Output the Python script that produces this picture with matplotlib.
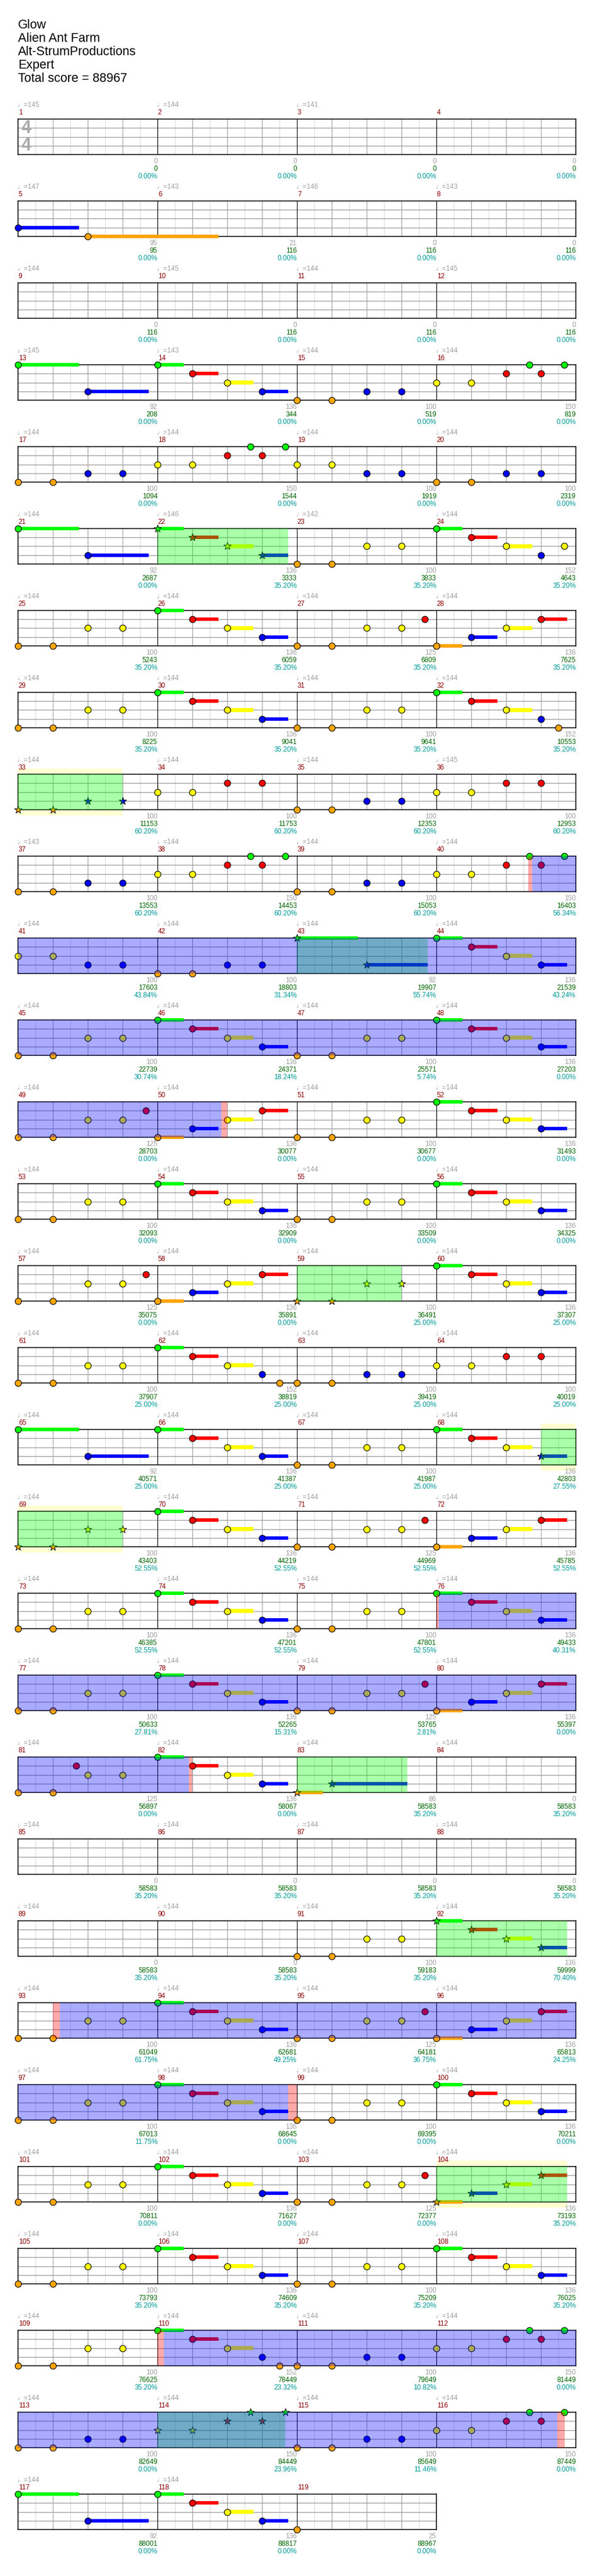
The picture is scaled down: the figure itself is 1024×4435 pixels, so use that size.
import matplotlib
matplotlib.use('Agg')
import matplotlib.pyplot as plt
from matplotlib.patches import Rectangle

plt.rcParams['font.family'] = ['Liberation Sans', 'DejaVu Sans']

# ---------------- data ----------------
title_lines = ["Glow", "Alien Ant Farm", "Alt-StrumProductions", "Expert", "Total score = 88967"]

tempos = [145, 144, 141, None, 147, 143, 146, 143, 144, 145, 144, 145,
          145, 143, 144, 144, 144, 144, 144, 144, 144, 146, 142, 144,
          144, 144, 144, 144, 144, 144, 144, 144, 144, 144, 144, 145,
          143, 144, 144, 144, 144, 144, 144, 144, 144, 144, 144, 144,
          144, 144, 144, 144, 144, 144, 144, 144, 144, 144, 144, 144,
          144, 144, 144, 144, 144, 144, 144, 144, 144, 144, 144, 144,
          144, 144, 144, 144, 144, 144, 144, 144, 144, 144, 144, 144,
          144, 144, 144, 144, 144, 144, 144, 144, 144, 144, 144, 144,
          144, 144, 144, 144, 144, 144, 144, 144, 144, 144, 144, 144,
          144, 144, 144, 144, 144, 144, 144, 144, 144, 144, None]

bar_scores = [0, 0, 0, 0, 95, 21, 0, 0, 0, 0, 0, 0,
              92, 136, 100, 150, 100, 150, 100, 100, 92, 136, 100, 152,
              100, 136, 125, 136, 100, 136, 100, 152, 100, 100, 100, 100,
              100, 150, 100, 150, 100, 100, 92, 136, 100, 136, 100, 136,
              125, 136, 100, 136, 100, 136, 100, 136, 125, 136, 100, 136,
              100, 152, 100, 100, 92, 136, 100, 136, 100, 136, 125, 136,
              100, 136, 100, 136, 100, 136, 125, 136, 125, 136, 86, 0,
              0, 0, 0, 0, 0, 0, 100, 136, 100, 136, 125, 136,
              100, 136, 100, 136, 100, 136, 125, 136, 100, 136, 100, 136,
              100, 152, 100, 150, 100, 150, 100, 150, 92, 136, 25]

total_scores = [0, 0, 0, 0, 95, 116, 116, 116, 116, 116, 116, 116,
                208, 344, 519, 819, 1094, 1544, 1919, 2319, 2687, 3333, 3833, 4643,
                5243, 6059, 6809, 7625, 8225, 9041, 9641, 10553, 11153, 11753, 12353, 12953,
                13553, 14453, 15053, 16403, 17603, 18803, 19907, 21539, 22739, 24371, 25571, 27203,
                28703, 30077, 30677, 31493, 32093, 32909, 33509, 34325, 35075, 35891, 36491, 37307,
                37907, 38819, 39419, 40019, 40571, 41387, 41987, 42803, 43403, 44219, 44969, 45785,
                46385, 47201, 47801, 49433, 50633, 52265, 53765, 55397, 56897, 58067, 58583, 58583,
                58583, 58583, 58583, 58583, 58583, 58583, 59183, 59999, 61049, 62681, 64181, 65813,
                67013, 68645, 69395, 70211, 70811, 71627, 72377, 73193, 73793, 74609, 75209, 76025,
                76625, 78449, 79649, 81449, 82649, 84449, 85649, 87449, 88001, 88817, 88967]

sp_percent = [0.00, 0.00, 0.00, 0.00, 0.00, 0.00, 0.00, 0.00, 0.00, 0.00, 0.00, 0.00,
              0.00, 0.00, 0.00, 0.00, 0.00, 0.00, 0.00, 0.00, 0.00, 35.20, 35.20, 35.20,
              35.20, 35.20, 35.20, 35.20, 35.20, 35.20, 35.20, 35.20, 60.20, 60.20, 60.20, 60.20,
              60.20, 60.20, 60.20, 56.34, 43.84, 31.34, 55.74, 43.24, 30.74, 18.24, 5.74, 0.00,
              0.00, 0.00, 0.00, 0.00, 0.00, 0.00, 0.00, 0.00, 0.00, 0.00, 25.00, 25.00,
              25.00, 25.00, 25.00, 25.00, 25.00, 25.00, 25.00, 27.55, 52.55, 52.55, 52.55, 52.55,
              52.55, 52.55, 52.55, 40.31, 27.81, 15.31, 2.81, 0.00, 0.00, 0.00, 35.20, 35.20,
              35.20, 35.20, 35.20, 35.20, 35.20, 35.20, 35.20, 70.40, 61.75, 49.25, 36.75, 24.25,
              11.75, 0.00, 0.00, 0.00, 0.00, 0.00, 0.00, 35.20, 35.20, 35.20, 35.20, 35.20,
              35.20, 23.32, 10.82, 0.00, 0.00, 23.96, 11.46, 0.00, 0.00, 0.00, 0.00]

# notes per measure: "<eighth><lane>[:<sustain eighths>][*=star note]"
measure_notes = {
    5: "0B:3.5 4O:7.5",
    13: "0G:3.5 4B:3.5", 14: "0G:1.5 2R:1.5 4Y:1.5 6B:1.5", 15: "0O 2O 4B 6B", 16: "0Y 2Y 4R 5.33G 6R 7.33G",
    17: "0O 2O 4B 6B", 18: "0Y 2Y 4R 5.33G 6R 7.33G", 19: "0Y 2Y 4B 6B", 20: "0O 2O 4B 6B",
    21: "0G:3.5 4B:3.5", 22: "0G:1.5* 2R:1.5* 4Y:1.5* 6B:1.5*", 23: "0O 2O 4Y 6Y", 24: "0G:1.5 2R:1.5 4Y:1.5 6B 7.33Y",
    25: "0O 2O 4Y 6Y", 26: "0G:1.5 2R:1.5 4Y:1.5 6B:1.5", 27: "0O 2O 4Y 6Y 7.33R", 28: "0O:1.5 2B:1.5 4Y:1.5 6R:1.5",
    29: "0O 2O 4Y 6Y", 30: "0G:1.5 2R:1.5 4Y:1.5 6B:1.5", 31: "0O 2O 4Y 6Y", 32: "0G:1.5 2R:1.5 4Y:1.5 6B 7O",
    33: "0O* 2O* 4B* 6B*", 34: "0Y 2Y 4R 6R", 35: "0O 2O 4B 6B", 36: "0Y 2Y 4R 6R",
    37: "0O 2O 4B 6B", 38: "0Y 2Y 4R 5.33G 6R 7.33G", 39: "0O 2O 4B 6B", 40: "0Y 2Y 4R 5.33G 6R 7.33G",
    41: "0Y 2Y 4B 6B", 42: "0O 2O 4B 6B", 43: "0G:3.5* 4B:3.5*", 44: "0G:1.5 2R:1.5 4Y:1.5 6B:1.5",
    45: "0O 2O 4Y 6Y", 46: "0G:1.5 2R:1.5 4Y:1.5 6B:1.5", 47: "0O 2O 4Y 6Y", 48: "0G:1.5 2R:1.5 4Y:1.5 6B:1.5",
    49: "0O 2O 4Y 6Y 7.33R", 50: "0O:1.5 2B:1.5 4Y:1.5 6R:1.5", 51: "0O 2O 4Y 6Y", 52: "0G:1.5 2R:1.5 4Y:1.5 6B:1.5",
    53: "0O 2O 4Y 6Y", 54: "0G:1.5 2R:1.5 4Y:1.5 6B:1.5", 55: "0O 2O 4Y 6Y", 56: "0G:1.5 2R:1.5 4Y:1.5 6B:1.5",
    57: "0O 2O 4Y 6Y 7.33R", 58: "0O:1.5 2B:1.5 4Y:1.5 6R:1.5", 59: "0O* 2O* 4Y* 6Y*", 60: "0G:1.5 2R:1.5 4Y:1.5 6B:1.5",
    61: "0O 2O 4Y 6Y", 62: "0G:1.5 2R:1.5 4Y:1.5 6B 7O", 63: "0O 2O 4B 6B", 64: "0Y 2Y 4R 6R",
    65: "0G:3.5 4B:3.5", 66: "0G:1.5 2R:1.5 4Y:1.5 6B:1.5", 67: "0O 2O 4Y 6Y", 68: "0G:1.5 2R:1.5 4Y:1.5 6B:1.5*",
    69: "0O* 2O* 4Y* 6Y*", 70: "0G:1.5 2R:1.5 4Y:1.5 6B:1.5", 71: "0O 2O 4Y 6Y 7.33R", 72: "0O:1.5 2B:1.5 4Y:1.5 6R:1.5",
    73: "0O 2O 4Y 6Y", 74: "0G:1.5 2R:1.5 4Y:1.5 6B:1.5", 75: "0O 2O 4Y 6Y", 76: "0G:1.5 2R:1.5 4Y:1.5 6B:1.5",
    77: "0O 2O 4Y 6Y", 78: "0G:1.5 2R:1.5 4Y:1.5 6B:1.5", 79: "0O 2O 4Y 6Y 7.33R", 80: "0O:1.5 2B:1.5 4Y:1.5 6R:1.5",
    81: "0O 2O 3.33R 4Y 6Y", 82: "0G:1.5 2R:1.5 4Y:1.5 6B:1.5", 83: "0O:1.5* 2B:4.33*",
    91: "0O 2O 4Y 6Y", 92: "0G:1.5* 2R:1.5* 4Y:1.5* 6B:1.5*",
    93: "0O 2O 4Y 6Y", 94: "0G:1.5 2R:1.5 4Y:1.5 6B:1.5", 95: "0O 2O 4Y 6Y 7.33R", 96: "0O:1.5 2B:1.5 4Y:1.5 6R:1.5",
    97: "0O 2O 4Y 6Y", 98: "0G:1.5 2R:1.5 4Y:1.5 6B:1.5", 99: "0O 2O 4Y 6Y", 100: "0G:1.5 2R:1.5 4Y:1.5 6B:1.5",
    101: "0O 2O 4Y 6Y", 102: "0G:1.5 2R:1.5 4Y:1.5 6B:1.5", 103: "0O 2O 4Y 6Y 7.33R", 104: "0O:1.5* 2B:1.5* 4Y:1.5* 6R:1.5*",
    105: "0O 2O 4Y 6Y", 106: "0G:1.5 2R:1.5 4Y:1.5 6B:1.5", 107: "0O 2O 4Y 6Y", 108: "0G:1.5 2R:1.5 4Y:1.5 6B:1.5",
    109: "0O 2O 4Y 6Y", 110: "0G:1.5 2R:1.5 4Y:1.5 6B 7O", 111: "0O 2O 4B 6B", 112: "0Y 2Y 4R 5.33G 6R 7.33G",
    113: "0O 2O 4B 6B", 114: "0Y* 2Y* 4R* 5.33G* 6R* 7.33G*", 115: "0O 2O 4B 6B", 116: "0Y 2Y 4R 5.33G 6R 7.33G",
    117: "0G:3.5 4B:3.5", 118: "0G:1.5 2R:1.5 4Y:1.5 6B:1.5", 119: "0O",
}

# time ranges in eighth notes from the song start
sp_phrases = [(168, 175.5), (256, 262), (336, 343.5), (464, 470), (542, 550),
              (656, 662.33), (728, 735.5), (824, 831.5), (904, 911.33)]
unused_phrases = [(256, 262), (542, 550), (824, 831.5)]
sp_active = [(317.5, 395.67), (600.12, 649.8), (738.4, 783.5), (872.37, 926.93)]
sp_edges = [(317.28, 317.5), (395.67, 396.0), (600.0, 600.12), (649.8, 650.0),
            (738.0, 738.4), (783.5, 784.0), (872.0, 872.37), (926.93, 927.37)]

# ---------------- style ----------------
W, H, DPI = 1024, 4435, 100
LEFT, MEAS_W, TOP0, PITCH, STAFF_H = 31, 240, 205, 141, 61
LANE_PX = STAFF_H / 4.0
PER_ROW, EIGHTHS = 4, 8
LANES = {'G': 0, 'R': 1, 'Y': 2, 'B': 3, 'O': 4}
COLORS = {'G': '#00ff00', 'R': '#ff0000', 'Y': '#ffff00', 'B': '#0000ff', 'O': '#ffa500'}


def parse(spec):
    out = []
    for tok in spec.split():
        star = tok.endswith('*')
        tok = tok.rstrip('*')
        if ':' in tok:
            head, sus = tok.split(':')
            sus = float(sus)
        else:
            head, sus = tok, 0.0
        out.append((float(head[:-1]), head[-1], sus, star))
    return out


fig = plt.figure(figsize=(W / DPI, H / DPI), dpi=DPI)
fig.patch.set_facecolor('white')

for i, line in enumerate(title_lines):
    fig.text(31 / W, 1 - (49 + 23 * i) / H, line, fontsize=15.5, color='black',
             ha='left', va='baseline')

n_meas = len(tempos)
n_rows = (n_meas + PER_ROW - 1) // PER_ROW
axes = []
for r in range(n_rows):
    m_first = r * PER_ROW + 1
    nm = min(PER_ROW, n_meas - r * PER_ROW)
    top = TOP0 + r * PITCH
    ax = fig.add_axes([LEFT / W, 1 - (top + STAFF_H) / H, nm * MEAS_W / W, STAFF_H / H])
    ax.set_xlim(0, nm * EIGHTHS)
    ax.set_ylim(4, 0)
    ax.set_xticks([])
    ax.set_yticks([])
    ax.set_facecolor('white')
    for s in ax.spines.values():
        s.set_color('black')
        s.set_linewidth(1.1)
        s.set_zorder(2.5)
    for k in range(1, nm * EIGHTHS):
        if k % EIGHTHS == 0:
            c = 'black'
        elif k % 2 == 0:
            c = '#a0a0a0'
        else:
            c = '#dcdcdc'
        ax.axvline(k, color=c, lw=0.8, zorder=1 if c == '#dcdcdc' else 1.3)
    for y in (1, 2, 3):
        ax.axhline(y, color='#a0a0a0', lw=1.0, zorder=1.2)

    g0 = r * PER_ROW * EIGHTHS
    g1 = g0 + nm * EIGHTHS

    def clip(a, b):
        return max(a, g0) - g0, min(b, g1) - g0

    # pale frames of unused phrases (outside the staff)
    for a, b in unused_phrases:
        if b > g0 and a < g1:
            x0, x1 = clip(a, b)
            ext = 10 / LANE_PX
            ax.add_patch(Rectangle((x0, -ext), x1 - x0, ext, facecolor='#ffffd2',
                                   edgecolor='none', zorder=0.5, clip_on=False))
            ax.add_patch(Rectangle((x0, 4), x1 - x0, ext, facecolor='#ffffd2',
                                   edgecolor='none', zorder=0.5, clip_on=False))

    # notes
    for mi in range(nm):
        m = m_first + mi
        for pos, lane, sus, star in parse(measure_notes.get(m, "")):
            x = mi * EIGHTHS + pos
            y = LANES[lane]
            col = COLORS[lane]
            if sus > 0:
                ax.add_patch(Rectangle((x, y - 0.21), sus, 0.42, facecolor=col,
                                       edgecolor='none', zorder=3, clip_on=False))
            if star:
                ax.scatter([x], [y], s=95, marker='*', c=col, edgecolors='black',
                           linewidths=0.7, zorder=4, clip_on=False)
            else:
                ax.scatter([x], [y], s=62, marker='o', c=col, edgecolors='black',
                           linewidths=0.8, zorder=4, clip_on=False)

    # star power overlays
    for ranges, col in ((sp_phrases, '#00ff00'), (sp_active, '#0000ff'), (sp_edges, '#ff0000')):
        for a, b in ranges:
            if b > g0 and a < g1:
                x0, x1 = clip(a, b)
                ax.add_patch(Rectangle((x0, 0), x1 - x0, 4, facecolor=col, alpha=1 / 3,
                                       edgecolor='none', zorder=10))

    # texts
    for mi in range(nm):
        m = m_first + mi
        idx = m - 1
        if tempos[idx] is not None:
            ax.text(mi * EIGHTHS - 0.05, -24 / LANE_PX, "\u2669=%d" % tempos[idx],
                    color='#a0a0a0', fontsize=8.5, ha='left', va='center')
        ax.text(mi * EIGHTHS + 0.03, -11 / LANE_PX, str(m), color='#8b0000',
                fontsize=8.5, ha='left', va='center')
        xe = (mi + 1) * EIGHTHS
        ax.text(xe, 4 + 12 / LANE_PX, str(bar_scores[idx]), color='#a0a0a0',
                fontsize=8.5, ha='right', va='center')
        ax.text(xe, 4 + 25 / LANE_PX, str(total_scores[idx]), color='#006400',
                fontsize=8.5, ha='right', va='center')
        ax.text(xe, 4 + 38 / LANE_PX, "%.2f%%" % sp_percent[idx], color='#009999',
                fontsize=8.5, ha='right', va='center')

    if r == 0:
        for yy in (1.08, 3.0):
            ax.text(0.18, yy, "4", color='#aaaaaa', fontsize=22, fontweight='bold',
                    ha='left', va='center', zorder=2)
    axes.append(ax)

fig.savefig('out.png', dpi=DPI, facecolor='white')
